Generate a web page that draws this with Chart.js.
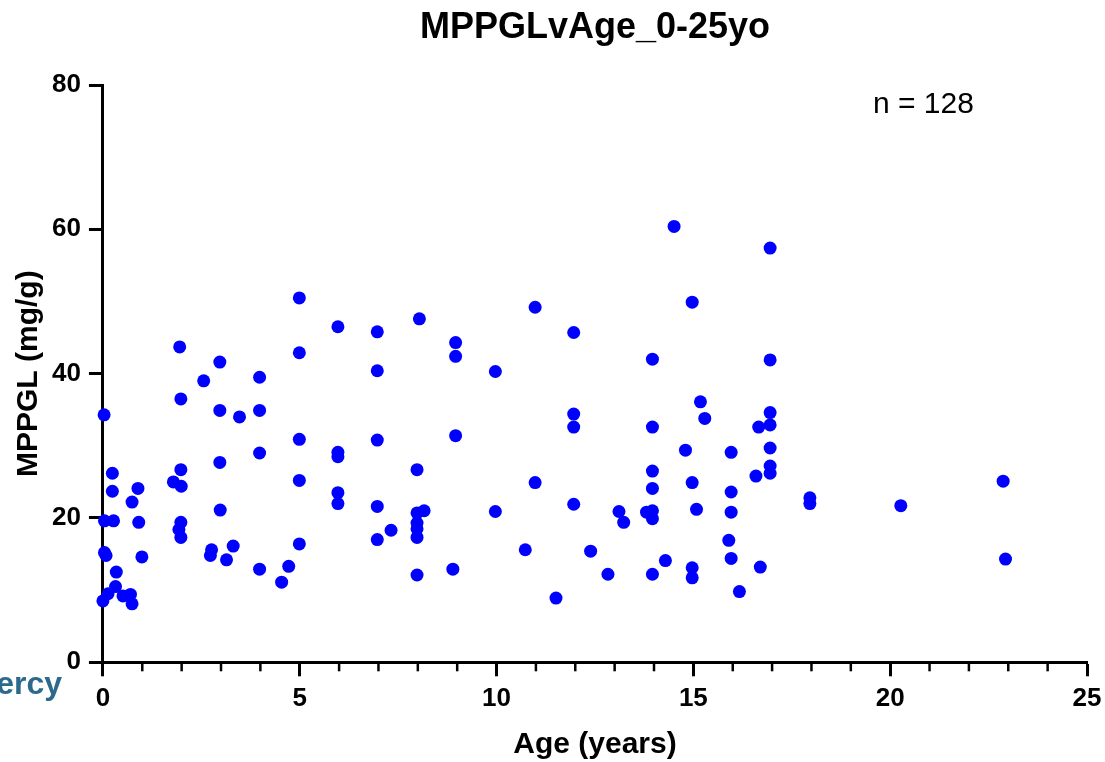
<!DOCTYPE html>
<html>
<head>
<meta charset="utf-8">
<script src="https://cdn.jsdelivr.net/npm/chart.js@4"></script>
<style>
  body { margin: 0; background: #fff; }
  #wrap { width: 1105px; height: 762px; }
</style>
</head>
<body>
<div id="wrap"><canvas id="plot-mppgl" width="1105" height="762"></canvas></div>
<script>
let chartTitle = "MPPGLvAge_0-25yo";
let sampleNote = "n = 128";
let xTitle = "Age (years)";
let yTitle = "MPPGL (mg/g)";

let ages = [0.03, 0.24, 0.24, 0.04, 0.27, 0.04, 0.08, 0.99, 0.34, 0.32, 0.13, 0.0, 0.51, 0.7, 0.74, 0.74, 0.89, 0.91,
    1.79, 1.98, 1.99, 1.98, 1.95, 1.98, 1.93, 1.98,
    2.56, 2.97, 2.97, 2.97, 2.98, 2.76, 2.73, 3.14, 3.31, 3.47,
    3.98, 3.98, 3.98, 3.98, 4.54, 4.72,
    4.99, 4.99, 4.99, 4.99, 4.99,
    5.97, 5.97, 5.97, 5.97, 5.97,
    6.97, 6.97, 6.97, 6.97, 6.97, 7.32,
    8.04, 7.98, 7.98, 8.16, 7.98, 7.98, 7.98, 7.98,
    8.96, 8.96, 8.96, 8.89,
    9.97, 9.97, 10.73,
    10.98, 10.98, 11.51,
    11.96, 11.96, 11.96, 11.96, 12.39, 12.83,
    13.11, 13.23,
    13.81, 13.96, 13.96, 13.96, 13.96, 13.96, 13.96, 13.96, 14.29, 14.51, 14.8,
    14.97, 14.97, 14.97, 14.97, 15.08, 15.18, 15.29,
    15.96, 15.96, 15.96, 15.9, 15.96, 16.17, 16.59, 16.66, 16.7,
    16.95, 16.95, 16.95, 16.95, 16.95, 16.95, 16.95,
    17.96, 17.96, 20.27, 22.87, 22.93];

let mppgl = [34.3, 26.2, 23.7, 19.6, 19.6, 15.2, 14.8, 14.6, 12.5, 10.5, 9.5, 8.5, 9.2, 9.4, 8.1, 22.2, 24.1, 19.4,
    25.0, 26.7, 24.4, 36.5, 43.7, 19.4, 18.4, 17.3,
    39.0, 41.6, 34.9, 27.7, 21.1, 15.6, 14.8, 14.2, 16.1, 34.0,
    39.5, 34.9, 29.0, 12.9, 11.1, 13.3,
    50.5, 42.9, 30.9, 25.2, 16.4,
    46.5, 29.1, 28.5, 23.5, 22.0,
    45.8, 40.4, 30.8, 21.6, 17.0, 18.3,
    47.6, 26.7, 20.7, 21.0, 19.3, 18.5, 17.3, 12.1,
    44.3, 42.4, 31.4, 12.9,
    40.3, 20.9, 15.6,
    49.2, 24.9, 8.9,
    45.7, 34.4, 32.6, 21.9, 15.4, 12.2,
    20.9, 19.4,
    20.8, 21.0, 19.9, 42.0, 32.6, 26.5, 24.1, 12.2, 14.1, 60.4, 29.4,
    49.9, 24.9, 13.1, 11.7, 21.2, 36.1, 33.8,
    29.1, 23.6, 20.8, 16.9, 14.4, 9.8, 25.8, 32.6, 13.2,
    57.4, 41.9, 34.6, 32.9, 29.7, 27.2, 26.2,
    22.8, 22.0, 21.7, 25.1, 14.3];

let points = [];
for (let i = 0; i < ages.length; i++) {
    points.push({ x: ages[i], y: mppgl[i] });
}

var fontName = "'Liberation Sans', Arial, Helvetica, sans-serif";

// title, n label, minor x ticks and the cut logo
var extras = {
    id: 'extras',
    afterDraw: function(chart) {
        var ctx = chart.ctx;
        var area = chart.chartArea;
        var xs = chart.scales.x;
        ctx.save();
        ctx.strokeStyle = '#000';
        ctx.lineWidth = 2.5;
        for (let v = 0; v <= 25; v++) {
            if (v % 5 === 0) continue;
            var px = xs.getPixelForValue(v);
            ctx.beginPath();
            ctx.moveTo(px, area.bottom);
            ctx.lineTo(px, area.bottom + 9);
            ctx.stroke();
        }
        ctx.fillStyle = '#000';
        ctx.textAlign = 'center';
        ctx.textBaseline = 'middle';
        ctx.font = 'bold 36px ' + fontName;
        ctx.fillText(chartTitle, (area.left + area.right) / 2, 28);
        ctx.textAlign = 'left';
        ctx.font = '30px ' + fontName;
        ctx.fillText(sampleNote, 873, 105);
        ctx.textAlign = 'right';
        ctx.fillStyle = '#2b6a8c';
        ctx.font = 'bold 32px ' + fontName;
        ctx.fillText('Mercy', 62, 685);
        ctx.restore();
    }
};

var ctx = document.getElementById('plot-mppgl').getContext('2d');

var graph = new Chart(ctx, {
    type: 'scatter',
    data: {
        datasets: [{
            data: points,
            backgroundColor: '#0000ff',
            borderWidth: 0,
            pointRadius: 6.5,
            pointHoverRadius: 6.5,
            clip: false
        }]
    },
    options: {
        responsive: false,
        animation: false,
        layout: {
            padding: { top: 85, right: 18, bottom: 2, left: 14 }
        },
        plugins: {
            legend: { display: false },
            title: { display: false },
            tooltip: { enabled: false }
        },
        scales: {
            x: {
                type: 'linear',
                min: 0,
                max: 25,
                afterFit: function(scale) {
                    scale.paddingRight = 0;
                },
                grid: {
                    display: true,
                    drawOnChartArea: false,
                    drawTicks: true,
                    tickLength: 14,
                    tickWidth: 3,
                    tickColor: '#000'
                },
                border: { display: true, width: 3, color: '#000' },
                ticks: {
                    stepSize: 5,
                    padding: 7,
                    color: '#000',
                    font: { family: fontName, size: 26, weight: 'bold' }
                },
                title: {
                    display: true,
                    text: xTitle,
                    color: '#000',
                    padding: { top: 8.5, bottom: 0 },
                    font: { family: fontName, size: 30, weight: 'bold', lineHeight: 1 }
                }
            },
            y: {
                type: 'linear',
                min: 0,
                max: 80,
                grid: {
                    display: true,
                    drawOnChartArea: false,
                    drawTicks: true,
                    tickLength: 14,
                    tickWidth: 3,
                    tickColor: '#000'
                },
                border: { display: true, width: 3, color: '#000' },
                ticks: {
                    stepSize: 20,
                    padding: 8,
                    color: '#000',
                    font: { family: fontName, size: 26, weight: 'bold' }
                },
                title: {
                    display: true,
                    text: yTitle,
                    color: '#000',
                    padding: { top: 0, bottom: 0 },
                    font: { family: fontName, size: 30, weight: 'bold', lineHeight: 1 }
                }
            }
        }
    },
    plugins: [extras]
});
</script>
</body>
</html>
